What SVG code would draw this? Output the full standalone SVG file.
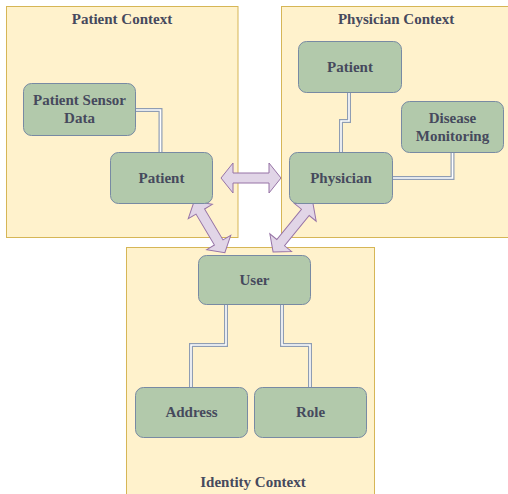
<svg xmlns="http://www.w3.org/2000/svg" width="508" height="494" viewBox="0 0 508 494">
<style>
.ctx{fill:#fff2cc;stroke:#d6b656;stroke-width:1}
.node{fill:#b2c9ab;stroke:#788aa3;stroke-width:1}
.t{font-family:"Liberation Serif","Times New Roman",serif;font-weight:bold;font-size:15px;fill:#46495d;text-anchor:middle}
.lo{fill:none;stroke:#8f9db3;stroke-width:4}
.li{fill:none;stroke:#ffffff;stroke-width:1.6}
.arr{fill:#e1d5e7;stroke:#9673a6;stroke-width:1}
</style>
<rect width="508" height="494" fill="#ffffff"/>
<g id="patient-context">
<rect class="ctx" x="6.5" y="6.5" width="231.5" height="231"/>
<text class="t" x="122" y="24">Patient Context</text>
</g>
<g id="physician-context">
<rect class="ctx" x="281.5" y="6.5" width="230" height="231"/>
<text class="t" x="396" y="24">Physician Context</text>
</g>
<g id="identity-context">
<rect class="ctx" x="126.5" y="247.5" width="248" height="250"/>
<text class="t" x="253" y="487">Identity Context</text>
</g>
<g id="connectors">
<path class="lo" d="M135,110 H160.5 V152"/>
<path class="li" d="M135,110 H160.5 V152"/>
<path class="lo" d="M349,92 V121 H341 V152"/>
<path class="li" d="M349,92 V121 H341 V152"/>
<path class="lo" d="M452.5,152 V178 H392"/>
<path class="li" d="M452.5,152 V178 H392"/>
<path class="lo" d="M226,304 V345 H191 V387"/>
<path class="li" d="M226,304 V345 H191 V387"/>
<path class="lo" d="M282,304 V345 H310 V387"/>
<path class="li" d="M282,304 V345 H310 V387"/>
<polygon class="arr" points="221,178 233,163 233,173 269,173 269,163 281,178 269,193 269,183 233,183 233,193"/>
<polygon class="arr" transform="translate(209.5,227) rotate(59.2)" points="-30,0 -18,-14 -18,-5 18,-5 18,-14 30,0 18,14 18,5 -18,5 -18,14"/>
<polygon class="arr" transform="translate(293,227.5) rotate(129.2)" points="-31.5,0 -19.5,-14 -19.5,-5 19.5,-5 19.5,-14 31.5,0 19.5,14 19.5,5 -19.5,5 -19.5,14"/>
</g>
<g id="sensor-data">
<rect class="node" x="23.5" y="83.5" width="112" height="52" rx="8"/>
<text class="t" x="79.5" y="105">Patient Sensor</text>
<text class="t" x="79.5" y="123">Data</text>
</g>
<g id="patient">
<rect class="node" x="110.5" y="152.5" width="102" height="51" rx="8"/>
<text class="t" x="161.5" y="183">Patient</text>
</g>
<g id="physician-patient">
<rect class="node" x="298.5" y="41.5" width="103" height="51" rx="8"/>
<text class="t" x="350" y="72">Patient</text>
</g>
<g id="disease-monitoring">
<rect class="node" x="401.5" y="101.5" width="102" height="51" rx="8"/>
<text class="t" x="452.5" y="123">Disease</text>
<text class="t" x="452.5" y="141">Monitoring</text>
</g>
<g id="physician">
<rect class="node" x="289.5" y="152.5" width="103" height="51" rx="8"/>
<text class="t" x="341" y="183">Physician</text>
</g>
<g id="user">
<rect class="node" x="198.5" y="255.5" width="112" height="49" rx="8"/>
<text class="t" x="254.5" y="285">User</text>
</g>
<g id="address">
<rect class="node" x="135.5" y="387.5" width="112" height="50" rx="8"/>
<text class="t" x="191.5" y="417">Address</text>
</g>
<g id="role">
<rect class="node" x="254.5" y="387.5" width="112" height="50" rx="8"/>
<text class="t" x="310.5" y="417">Role</text>
</g>
</svg>
